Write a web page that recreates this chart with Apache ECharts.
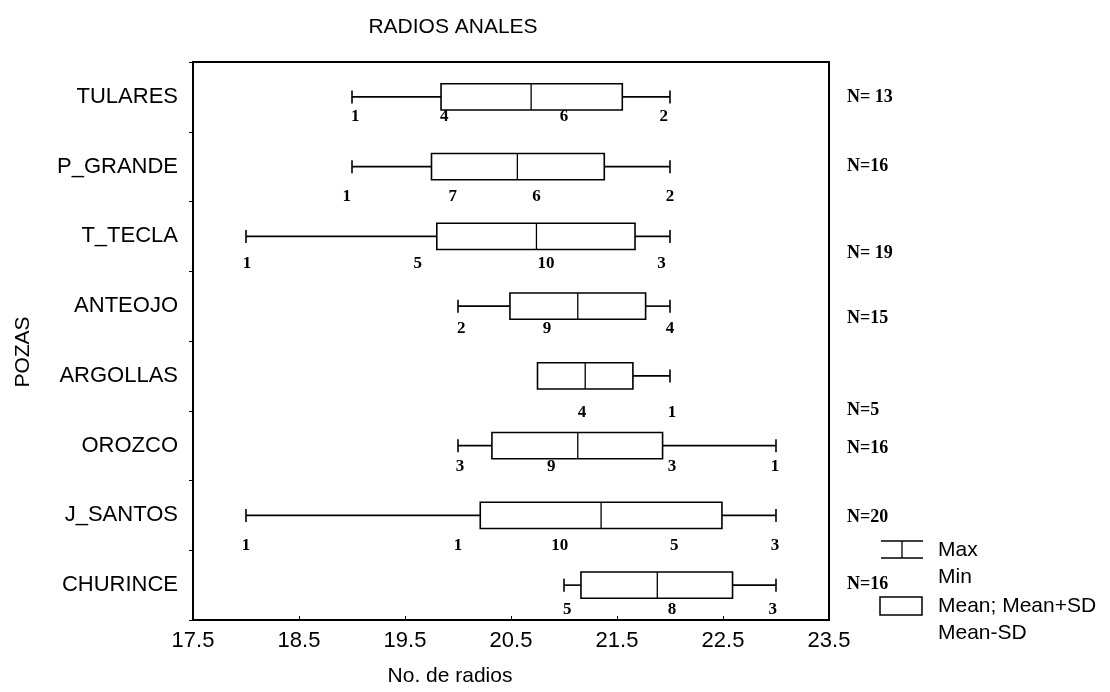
<!DOCTYPE html>
<html><head><meta charset="utf-8">
<script src="https://cdn.jsdelivr.net/npm/echarts@6/dist/echarts.min.js"></script>
<style>html,body{margin:0;padding:0;background:#fff}#c{width:1110px;height:692px}</style>
</head><body><div id="c"></div>
<script>
// ---- data ----
const categories = ['TULARES','P_GRANDE','T_TECLA','ANTEOJO','ARGOLLAS','OROZCO','J_SANTOS','CHURINCE'];
const minValues   = [19,    19,    18,    20,    21,    20,    18,    21];
const meanMinusSD = [19.84, 19.75, 19.80, 20.49, 20.75, 20.32, 20.21, 21.16];
const meanValues  = [20.69, 20.56, 20.74, 21.13, 21.20, 21.13, 21.35, 21.88];
const meanPlusSD  = [21.55, 21.38, 21.67, 21.77, 21.65, 21.93, 22.49, 22.59];
const maxValues   = [22,    22,    22,    22,    22,    23,    23,    23];
const nLabels = ['N= 13','N=16','N= 19','N=15','N=5','N=16','N=20','N=16'];
const countLabels = [
  ['1','4','6','2'],
  ['1','7','6','2'],
  ['1','5','10','3'],
  ['2','9','4'],
  ['4','1'],
  ['3','9','3','1'],
  ['1','1','10','5','3'],
  ['5','8','3']
];
const countPositions = [
  [19.03, 19.87, 21.00, 21.94],
  [18.95, 19.95, 20.74, 22.00],
  [18.01, 19.62, 20.83, 21.92],
  [20.03, 20.84, 22.00],
  [21.17, 22.02],
  [20.02, 20.88, 22.02, 22.99],
  [18.00, 20.00, 20.96, 22.04, 22.99],
  [21.03, 22.02, 22.97]
];
const xTickLabels = ['17.5','18.5','19.5','20.5','21.5','22.5','23.5'];
const xMin = 17.5, xMax = 23.5, xStep = 1;

// ---- styling (label offsets in px, not data) ----
const countLabelDy = [20, 30, 27, 22, 37, 21, 30, 24];
const nLabelDy = [0, 0, 17, 12, 34, 3, 2, -1];

const SANS = '"Liberation Sans", Arial, sans-serif';
const SERIF = '"Liberation Serif", "Times New Roman", serif';

const seriesData = categories.map((c, i) => [i, minValues[i], meanMinusSD[i], meanValues[i], meanPlusSD[i], maxValues[i]]);

function renderItem(params, api) {
  const i = api.value(0);
  const vMin = api.value(1), lo = api.value(2), mean = api.value(3), hi = api.value(4), vMax = api.value(5);
  const band = api.size([0, 1])[1];
  const boxH = band * 0.375;
  const capH = 13;
  const pMin = api.coord([vMin, i]), pLo = api.coord([lo, i]), pMean = api.coord([mean, i]);
  const pHi = api.coord([hi, i]), pMax = api.coord([vMax, i]);
  const y = pLo[1];
  const ls = {stroke: '#000', lineWidth: 1.6};
  const children = [];
  if (vMin < lo) {
    children.push({type: 'line', shape: {x1: pMin[0], y1: y, x2: pLo[0], y2: y}, style: ls});
    children.push({type: 'line', shape: {x1: pMin[0], y1: y - capH/2, x2: pMin[0], y2: y + capH/2}, style: ls});
  }
  if (vMax > hi) {
    children.push({type: 'line', shape: {x1: pHi[0], y1: y, x2: pMax[0], y2: y}, style: ls});
    children.push({type: 'line', shape: {x1: pMax[0], y1: y - capH/2, x2: pMax[0], y2: y + capH/2}, style: ls});
  }
  children.push({type: 'rect', shape: {x: pLo[0], y: y - boxH/2, width: pHi[0] - pLo[0], height: boxH},
    style: {fill: '#fff', stroke: '#000', lineWidth: 1.6}});
  children.push({type: 'line', shape: {x1: pMean[0], y1: y - boxH/2, x2: pMean[0], y2: y + boxH/2},
    style: {stroke: '#000', lineWidth: 1.3}});
  countLabels[i].forEach((t, j) => {
    const p = api.coord([countPositions[i][j], i]);
    children.push({type: 'text', style: {text: t, x: p[0], y: y + countLabelDy[i], align: 'center', verticalAlign: 'middle',
      font: 'bold 17px ' + SERIF, fill: '#000'}});
  });
  const pEnd = api.coord([xMax, i]);
  children.push({type: 'text', style: {text: nLabels[i], x: pEnd[0] + 18, y: y + nLabelDy[i], align: 'left', verticalAlign: 'middle',
    font: 'bold 18px ' + SERIF, fill: '#000'}});
  return {type: 'group', children};
}

const chart = echarts.init(document.getElementById('c'), null, {renderer: 'canvas'});
const legX = 880, textX = 938;
chart.setOption({
  animation: false,
  backgroundColor: '#fff',
  grid: {left: 193, right: 281, top: 62, bottom: 72, show: true, borderColor: '#000', borderWidth: 2, backgroundColor: 'transparent'},
  xAxis: {
    type: 'value', min: xMin, max: xMax, interval: xStep,
    axisLine: {show: true, lineStyle: {color: '#000', width: 2}},
    axisTick: {show: true, inside: true, length: 4, lineStyle: {color: '#000'}},
    splitLine: {show: false},
    axisLabel: {color: '#000', fontSize: 22, fontFamily: SANS, margin: 10,
      formatter: v => { const k = Math.round((v - xMin) / xStep); return xTickLabels[k] !== undefined ? xTickLabels[k] : ''; }}
  },
  yAxis: {
    type: 'category', data: categories, inverse: true,
    axisLine: {show: true, lineStyle: {color: '#000', width: 2}},
    axisTick: {show: true, length: 4, lineStyle: {color: '#000'}},
    axisLabel: {color: '#000', fontSize: 22, fontFamily: SANS, margin: 15},
    splitLine: {show: false}
  },
  series: [{
    type: 'custom', renderItem, data: seriesData, clip: false,
    encode: {x: [1, 2, 3, 4, 5], y: 0}
  }],
  graphic: [
    {type: 'text', x: 453, y: 27, style: {text: 'RADIOS ANALES', align: 'center', verticalAlign: 'middle', font: '21px ' + SANS, fill: '#000'}},
    {type: 'text', x: 450, y: 676, style: {text: 'No. de radios', align: 'center', verticalAlign: 'middle', font: '21px ' + SANS, fill: '#000'}},
    {type: 'text', x: 23, y: 352, rotation: Math.PI / 2, style: {text: 'POZAS', align: 'center', verticalAlign: 'middle', font: '21px ' + SANS, fill: '#000'}},
    // legend: whisker icon
    {type: 'line', shape: {x1: legX + 1, y1: 541, x2: legX + 43, y2: 541}, style: {stroke: '#000', lineWidth: 1.5}},
    {type: 'line', shape: {x1: legX + 1, y1: 558, x2: legX + 43, y2: 558}, style: {stroke: '#000', lineWidth: 1.5}},
    {type: 'line', shape: {x1: legX + 22, y1: 541, x2: legX + 22, y2: 558}, style: {stroke: '#000', lineWidth: 1.3}},
    {type: 'text', x: textX, y: 550, style: {text: 'Max', align: 'left', verticalAlign: 'middle', font: '21px ' + SANS, fill: '#000'}},
    {type: 'text', x: textX, y: 577, style: {text: 'Min', align: 'left', verticalAlign: 'middle', font: '21px ' + SANS, fill: '#000'}},
    // legend: box icon
    {type: 'rect', shape: {x: legX, y: 597, width: 42, height: 18}, style: {fill: '#fff', stroke: '#000', lineWidth: 1.5}},
    {type: 'text', x: textX, y: 606, style: {text: 'Mean; Mean+SD', align: 'left', verticalAlign: 'middle', font: '21px ' + SANS, fill: '#000'}},
    {type: 'text', x: textX, y: 633, style: {text: 'Mean-SD', align: 'left', verticalAlign: 'middle', font: '21px ' + SANS, fill: '#000'}}
  ]
});
</script></body></html>
